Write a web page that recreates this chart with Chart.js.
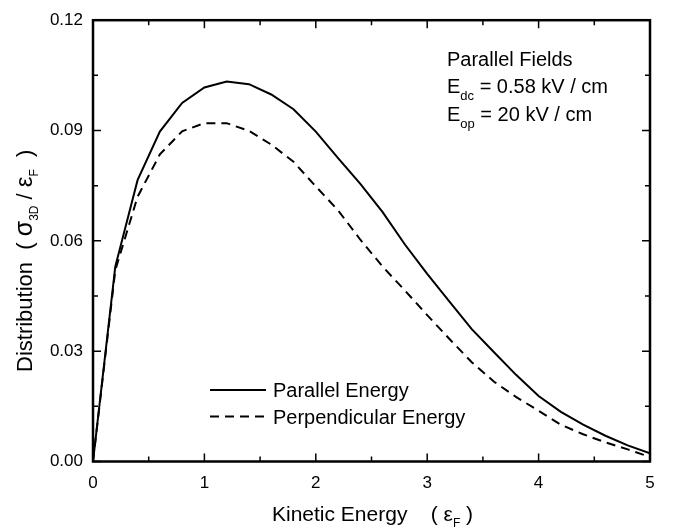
<!DOCTYPE html>
<html lang="en">
<head>
    <meta charset="UTF-8">
    <title>Distribution vs Kinetic Energy</title>
    <script src="https://cdn.jsdelivr.net/npm/chart.js"></script>
    <style>
        html, body { margin: 0; padding: 0; background: #fff; }
        #wrap { width: 673px; height: 529px; }
    </style>
</head>
<body>
<div id="wrap"><canvas id="distChart" width="673" height="529"></canvas></div>
<script>
    // kinetic energy in units of eps_F
    const energy = [0, 0.2, 0.4, 0.6, 0.8, 1.0, 1.2, 1.4, 1.6, 1.8, 2.0, 2.2, 2.4,
                    2.6, 2.8, 3.0, 3.2, 3.4, 3.6, 3.8, 4.0, 4.2, 4.4, 4.6, 4.8, 5.0];
    const parallelEnergy = [0, 0.053, 0.0765, 0.0897, 0.0975, 0.1017, 0.1033, 0.1026, 0.0998, 0.0958,
                            0.0897, 0.0825, 0.0755, 0.0678, 0.0590, 0.0510, 0.0435, 0.0360, 0.0297,
                            0.0235, 0.0178, 0.0135, 0.0100, 0.0070, 0.0044, 0.0022];
    const perpendicularEnergy = [0, 0.052, 0.072, 0.0835, 0.0898, 0.0920, 0.0920, 0.0899, 0.0862, 0.0815,
                                 0.0748, 0.0683, 0.0603, 0.0530, 0.0465, 0.0398, 0.0333, 0.0270, 0.0217,
                                 0.0175, 0.0138, 0.0100, 0.0074, 0.0052, 0.0033, 0.0012];
    const xTickLabels = ["0", "1", "2", "3", "4", "5"];
    const yTickLabels = ["0.00", "0.03", "0.06", "0.09", "0.12"];

    const FONT = "'Liberation Sans', Arial, Helvetica, sans-serif";

    // draws a run of text pieces: [text, size, dy]
    function drawRich(ctx, parts, x, y) {
        let cx = x;
        for (const [t, size, dy] of parts) {
            ctx.font = size + "px " + FONT;
            ctx.fillText(t, cx, y + (dy || 0));
            cx += ctx.measureText(t).width;
        }
    }

    const framePlugin = {
        id: "frame",
        afterDraw(chart) {
            const { ctx, chartArea: a, scales } = chart;
            ctx.save();
            ctx.strokeStyle = "#000";
            ctx.lineWidth = 2.5;
            ctx.strokeRect(a.left, a.top, a.right - a.left, a.bottom - a.top);

            ctx.lineWidth = 1.5;
            const tickSet = (scale) => {
                const vals = scale.ticks.map(t => t.value);
                const minors = [];
                for (let i = 0; i < vals.length - 1; i++) minors.push((vals[i] + vals[i + 1]) / 2);
                return { vals, minors };
            };
            const xs = tickSet(scales.x);
            ctx.beginPath();
            xs.vals.forEach(v => {
                const p = scales.x.getPixelForValue(v);
                ctx.moveTo(p, a.bottom); ctx.lineTo(p, a.bottom - 8);
                ctx.moveTo(p, a.top); ctx.lineTo(p, a.top + 8);
            });
            xs.minors.forEach(v => {
                const p = scales.x.getPixelForValue(v);
                ctx.moveTo(p, a.bottom); ctx.lineTo(p, a.bottom - 5);
                ctx.moveTo(p, a.top); ctx.lineTo(p, a.top + 5);
            });
            const ys = tickSet(scales.y);
            ys.vals.forEach(v => {
                const p = scales.y.getPixelForValue(v);
                ctx.moveTo(a.left, p); ctx.lineTo(a.left + 8, p);
                ctx.moveTo(a.right, p); ctx.lineTo(a.right - 8, p);
            });
            ys.minors.forEach(v => {
                const p = scales.y.getPixelForValue(v);
                ctx.moveTo(a.left, p); ctx.lineTo(a.left + 5, p);
                ctx.moveTo(a.right, p); ctx.lineTo(a.right - 5, p);
            });
            ctx.stroke();

            ctx.fillStyle = "#000";
            ctx.textBaseline = "alphabetic";
            ctx.textAlign = "left";

            // legend
            chart.data.datasets.forEach((ds, i) => {
                const ly = 390 + i * 26.5;
                ctx.beginPath();
                ctx.lineWidth = 2;
                ctx.setLineDash(ds.borderDash || []);
                ctx.moveTo(210, ly); ctx.lineTo(266, ly);
                ctx.stroke();
                ctx.setLineDash([]);
                ctx.font = "20px " + FONT;
                ctx.fillText(ds.label, 273, ly + 7);
            });

            // annotation
            drawRich(ctx, [["Parallel Fields", 20]], 447, 66);
            drawRich(ctx, [["E", 20], ["dc", 13, 7], [" = 0.58 kV / cm", 20]], 447, 93);
            drawRich(ctx, [["E", 20], ["op", 13, 7], [" = 20 kV / cm", 20]], 447, 121);

            // x title
            drawRich(ctx, [["Kinetic Energy    ( ", 21], ["\u03b5", 21], ["F", 12, 6], [" )", 21]], 272, 521);

            // y title
            ctx.translate(32, 372);
            ctx.rotate(-Math.PI / 2);
            drawRich(ctx, [["Distribution  ( ", 22], ["\u03c3", 25], ["3D", 12, 6], [" / ", 22],
                           ["\u03b5", 24], ["F", 12, 6], ["  )", 22]], 0, 0);
            ctx.restore();
        }
    };

    const ctx = document.getElementById("distChart").getContext("2d");
    new Chart(ctx, {
        type: "line",
        data: {
            datasets: [
                {
                    label: "Parallel Energy",
                    data: energy.map((e, i) => ({ x: e, y: parallelEnergy[i] })),
                    borderColor: "#000",
                    borderWidth: 2,
                    pointRadius: 0,
                    tension: 0,
                    fill: false
                },
                {
                    label: "Perpendicular Energy",
                    data: energy.map((e, i) => ({ x: e, y: perpendicularEnergy[i] })),
                    borderColor: "#000",
                    borderWidth: 2,
                    borderDash: [9, 6],
                    pointRadius: 0,
                    tension: 0,
                    fill: false
                }
            ]
        },
        options: {
            responsive: false,
            animation: false,
            devicePixelRatio: 1,
            layout: { padding: { top: 14, right: 23, left: 0, bottom: 0 } },
            plugins: { legend: { display: false }, tooltip: { enabled: false } },
            scales: {
                x: {
                    type: "linear",
                    min: 0,
                    max: 5,
                    grid: { display: false, drawTicks: false },
                    border: { display: false },
                    ticks: {
                        stepSize: 1,
                        color: "#000",
                        font: { size: 17, family: FONT },
                        padding: 12,
                        maxRotation: 0,
                        callback: (v, i) => xTickLabels[i]
                    },
                    afterFit: s => { s.height = 67.5; }
                },
                y: {
                    min: 0,
                    max: 0.12,
                    grid: { display: false, drawTicks: false },
                    border: { display: false },
                    ticks: {
                        stepSize: 0.03,
                        color: "#000",
                        font: { size: 17, family: FONT },
                        padding: 10,
                        callback: (v, i) => yTickLabels[i]
                    },
                    afterFit: s => { s.width = 93; }
                }
            }
        },
        plugins: [framePlugin]
    });
</script>
</body>
</html>
